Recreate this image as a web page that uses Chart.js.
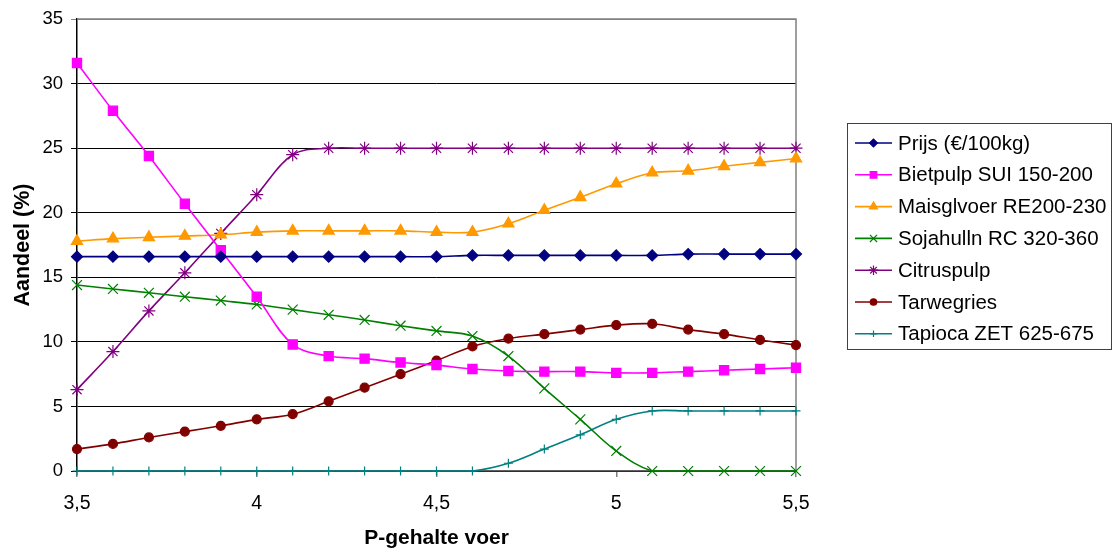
<!DOCTYPE html>
<html>
<head>
<meta charset="utf-8">
<script src="https://cdn.jsdelivr.net/npm/chart.js@4.4.1/dist/chart.umd.min.js"></script>
<style>
  html, body { margin: 0; padding: 0; background: #fff; }
  #wrap { width: 1116px; height: 554px; position: relative; }
</style>
</head>
<body>
<div id="wrap"><canvas id="c" width="1116" height="554"></canvas></div>
<script>
// P-gehalte voer (x) from 3,5 to 5,5 in steps of 0,1
const pGehalte = [3.5, 3.6, 3.7, 3.8, 3.9, 4.0, 4.1, 4.2, 4.3, 4.4, 4.5, 4.6, 4.7, 4.8, 4.9, 5.0, 5.1, 5.2, 5.3, 5.4, 5.5];

const prijs       = [16.6, 16.6, 16.6, 16.6, 16.6, 16.6, 16.6, 16.6, 16.6, 16.6, 16.6, 16.7, 16.7, 16.7, 16.7, 16.7, 16.7, 16.8, 16.8, 16.8, 16.8];
const bietpulp    = [31.6, 27.9, 24.4, 20.7, 17.1, 13.5, 9.8, 8.9, 8.7, 8.4, 8.2, 7.9, 7.75, 7.7, 7.7, 7.6, 7.6, 7.7, 7.8, 7.9, 8.0];
const maisglvoer  = [17.8, 18.0, 18.1, 18.2, 18.3, 18.5, 18.6, 18.6, 18.6, 18.6, 18.5, 18.5, 19.15, 20.2, 21.2, 22.25, 23.1, 23.25, 23.6, 23.9, 24.2];
const sojahulln   = [14.4, 14.1, 13.8, 13.5, 13.2, 12.9, 12.5, 12.1, 11.7, 11.25, 10.85, 10.45, 8.9, 6.4, 4.0, 1.55, 0, 0, 0, 0, 0];
const citruspulp  = [6.3, 9.25, 12.4, 15.35, 18.4, 21.4, 24.5, 25, 25, 25, 25, 25, 25, 25, 25, 25, 25, 25, 25, 25, 25];
const tarwegries  = [1.7, 2.1, 2.6, 3.05, 3.5, 4.0, 4.4, 5.4, 6.45, 7.5, 8.55, 9.65, 10.25, 10.6, 10.95, 11.3, 11.4, 10.95, 10.6, 10.15, 9.75];
const tapioca     = [0, 0, 0, 0, 0, 0, 0, 0, 0, 0, 0, 0, 0.6, 1.7, 2.8, 4.0, 4.65, 4.65, 4.65, 4.65, 4.65];

const seriesNames = ['Prijs (€/100kg)', 'Bietpulp SUI 150-200', 'Maisglvoer RE200-230', 'Sojahulln RC 320-360', 'Citruspulp', 'Tarwegries', 'Tapioca ZET 625-675'];
const yTicks = [0, 5, 10, 15, 20, 25, 30, 35];
const xTicks = [3.5, 4, 4.5, 5, 5.5];

const FONT = '"Liberation Sans", Arial, sans-serif';

function series(values) {
  return values.map((v, i) => ({ x: pGehalte[i], y: v }));
}

const styles = [
  { color: '#000080', pointStyle: 'rectRot', radius: 5.5 },
  { color: '#FF00FF', pointStyle: 'rect', radius: 6.5 },
  { color: '#FF9900', pointStyle: 'triangle', radius: 6.5 },
  { color: '#008000', pointStyle: 'crossRot', radius: 7 },
  { color: '#800080', pointStyle: 'star', radius: 6.5 },
  { color: '#800000', pointStyle: 'circle', radius: 4.5 },
  { color: '#008080', pointStyle: 'cross', radius: 4.5 }
];
const allValues = [prijs, bietpulp, maisglvoer, sojahulln, citruspulp, tarwegries, tapioca];

const datasets = allValues.map((vals, k) => ({
  label: seriesNames[k],
  data: series(vals),
  borderColor: styles[k].color,
  backgroundColor: styles[k].color,
  pointBackgroundColor: styles[k].color,
  pointBorderColor: styles[k].color,
  pointStyle: styles[k].pointStyle,
  pointRadius: styles[k].radius,
  pointBorderWidth: 1.2,
  borderWidth: 1.6,
  tension: 0.35,
  clip: false,
  fill: false
}));

// Boxed legend at the right with line + marker samples
const sideLegend = {
  id: 'sideLegend',
  afterDraw(chart) {
    const ctx = chart.ctx;
    const left = 847, top = 123, right = 1111, bottom = 349;
    ctx.save();
    ctx.strokeStyle = '#404040';
    ctx.lineWidth = 1;
    ctx.strokeRect(left + 0.5, top + 0.5, right - left, bottom - top);
    ctx.font = '20.5px ' + FONT;
    ctx.textBaseline = 'middle';
    ctx.textAlign = 'left';
    chart.data.datasets.forEach((ds, i) => {
      const y = 143 + i * 31.8;
      ctx.strokeStyle = ds.borderColor;
      ctx.fillStyle = ds.borderColor;
      ctx.lineWidth = 1.6;
      ctx.beginPath();
      ctx.moveTo(855, y);
      ctx.lineTo(892, y);
      ctx.stroke();
      ctx.lineWidth = 1.2;
      Chart.helpers.drawPoint(ctx, {
        pointStyle: ds.pointStyle,
        radius: ds.pointRadius * 0.72,
        rotation: 0,
        borderWidth: 1.2
      }, 873.5, y);
      ctx.fillStyle = '#000';
      ctx.fillText(ds.label, 898, y + 1);
    });
    ctx.restore();
  }
};

// Plot-area frame on top and right
const plotFrame = {
  id: 'plotFrame',
  beforeDatasetsDraw(chart) {
    const a = chart.chartArea;
    const ctx = chart.ctx;
    ctx.save();
    ctx.strokeStyle = '#808080';
    ctx.lineWidth = 1.5;
    ctx.beginPath();
    ctx.moveTo(a.left, a.top);
    ctx.lineTo(a.right, a.top);
    ctx.lineTo(a.right, a.bottom);
    ctx.stroke();
    ctx.restore();
  }
};

new Chart(document.getElementById('c'), {
  type: 'line',
  data: { datasets },
  plugins: [plotFrame, sideLegend],
  options: {
    responsive: false,
    animation: false,
    devicePixelRatio: 1,
    layout: { padding: { left: 0, top: 16, right: 320, bottom: 0 } },
    plugins: {
      legend: { display: false },
      tooltip: { enabled: false }
    },
    scales: {
      x: {
        type: 'linear',
        min: 3.5,
        max: 5.5,
        afterFit(s) { s.height = 83; },
        afterBuildTicks(s) { s.ticks = xTicks.map(v => ({ value: v })); },
        ticks: {
          color: '#000',
          font: { family: FONT, size: 19.5 },
          padding: 15,
          maxRotation: 0,
          callback: v => String(v).replace('.', ',')
        },
        grid: {
          drawOnChartArea: false,
          drawTicks: true,
          tickLength: 6,
          color: '#808080',
          lineWidth: 1.5
        },
        border: { color: '#606060', width: 1.5 },
        title: {
          display: true,
          text: 'P-gehalte voer',
          color: '#000',
          font: { family: FONT, size: 21, weight: 'bold' },
          padding: { top: 0, bottom: 3 }
        }
      },
      y: {
        min: 0,
        max: 35,
        afterFit(s) { s.width = 77; },
        afterBuildTicks(s) { s.ticks = yTicks.map(v => ({ value: v })); },
        ticks: {
          color: '#000',
          font: { family: FONT, size: 18.5 },
          padding: 8
        },
        grid: {
          color: ctx => (ctx.tick && ctx.tick.value === 35) ? '#808080' : '#000',
          lineWidth: 1,
          tickLength: 6,
          drawTicks: true
        },
        border: { color: '#000', width: 1.5 },
        title: {
          display: true,
          text: 'Aandeel (%)',
          color: '#000',
          font: { family: FONT, size: 21.5, weight: 'bold' },
          padding: { top: 10, bottom: 0 }
        }
      }
    }
  }
});
</script>
</body>
</html>
